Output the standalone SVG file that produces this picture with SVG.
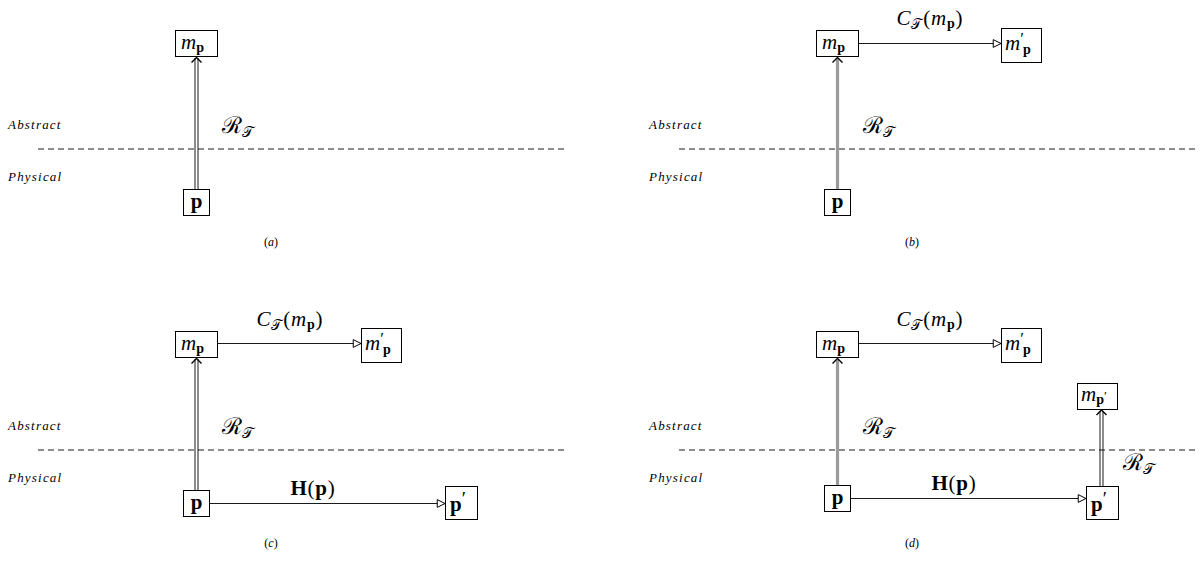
<svg xmlns="http://www.w3.org/2000/svg" width="1202" height="563" viewBox="0 0 1202 563">
<defs>
<style>
.box{fill:#fff;stroke:#000;stroke-width:1}
.dash{stroke:#000;stroke-width:0.9;stroke-dasharray:6 4;fill:none}
.lbl{font-family:"Liberation Serif","DejaVu Serif",serif;font-style:italic;font-size:13px;letter-spacing:1.2px;fill:#000}
.cap{font-family:"Liberation Serif","DejaVu Serif",serif;font-size:12px;fill:#000;text-anchor:middle}
.m{font-family:"Liberation Serif","DejaVu Serif",serif;font-size:21px;fill:#000}
.e{letter-spacing:0.8px}
.r{font-size:23px}
.it{font-style:italic}
.bf{font-weight:bold}
.thin{stroke:#000;stroke-width:0.9;fill:none}
.grey{stroke:#9a9a9a;stroke-width:3.2;fill:none}
.hor{stroke:#000;stroke-width:0.9;fill:none;marker-end:url(#tri)}
</style>
<marker id="tri" markerUnits="userSpaceOnUse" markerWidth="10" markerHeight="10" viewBox="-8 -4 9 8" refX="0" refY="0" orient="auto">
<path d="M-7,-3.5 L0,0 L-7,3.5 Z" fill="#fff" stroke="#000" stroke-width="0.9"/>
</marker>
<path id="chev" d="M-5,5 L0,0 L5,5" fill="none" stroke="#000" stroke-width="1.4"/>
</defs>

<!-- Panel a -->
<g id="panel-a">
<text class="lbl" x="8" y="129">Abstract</text>
<text class="lbl" x="8" y="181">Physical</text>
<line class="dash" x1="38" y1="149" x2="568" y2="149"/>
<text class="cap" x="271" y="246">(<tspan font-style="italic">a</tspan>)</text>
</g>
<g id="a-connectors">
<line class="thin" x1="195" y1="189" x2="195" y2="58"/>
<line class="thin" x1="198" y1="189" x2="198" y2="58"/>
<use href="#chev" x="196.5" y="57.5"/>
<text class="m r" x="222" y="133">ℛ<tspan font-size="15" dy="4">𝒯</tspan></text>
</g>
<g id="a-mp"><rect class="box" x="175.5" y="30.5" width="42" height="26"/>
<text class="m" x="181" y="49"><tspan class="it">m</tspan><tspan class="bf" font-size="14" dy="3">p</tspan></text></g>
<g id="a-p"><rect class="box" x="183.5" y="189.5" width="26" height="26"/>
<text class="m bf" x="196.5" y="208" text-anchor="middle">p</text></g>

<!-- Panel b -->
<g id="panel-b">
<text class="lbl" x="649" y="129">Abstract</text>
<text class="lbl" x="649" y="181">Physical</text>
<line class="dash" x1="679" y1="149" x2="1198" y2="149"/>
<text class="cap" x="912" y="246">(<tspan font-style="italic">b</tspan>)</text>
</g>
<g id="b-connectors">
<line class="grey" x1="837.5" y1="189" x2="837.5" y2="59"/>
<use href="#chev" x="837.5" y="57.5"/>
<line class="hor" x1="858" y1="43.5" x2="1001" y2="43.5"/>
<text class="m r" x="863" y="133">ℛ<tspan font-size="15" dy="4">𝒯</tspan></text>
<text class="m e" x="930" y="25" text-anchor="middle"><tspan class="it">C</tspan><tspan font-size="14" dy="4">𝒯</tspan><tspan dy="-4">(</tspan><tspan class="it">m</tspan><tspan class="bf" font-size="14" dy="3">p</tspan><tspan dy="-3">)</tspan></text>
</g>
<g id="b-mp"><rect class="box" x="816.5" y="30.5" width="42" height="26"/>
<text class="m" x="822" y="49"><tspan class="it">m</tspan><tspan class="bf" font-size="14" dy="3">p</tspan></text></g>
<g id="b-mpp"><rect class="box" x="1001.5" y="28.5" width="40" height="34"/>
<text class="m" x="1005" y="50"><tspan class="it">m</tspan><tspan font-size="17" dy="-6">′</tspan><tspan class="bf" font-size="14" dx="-1" dy="10">p</tspan></text></g>
<g id="b-p"><rect class="box" x="824.5" y="189.5" width="26" height="26"/>
<text class="m bf" x="837.5" y="208" text-anchor="middle">p</text></g>

<!-- Panel c -->
<g id="panel-c">
<text class="lbl" x="8" y="430">Abstract</text>
<text class="lbl" x="8" y="482">Physical</text>
<line class="dash" x1="38" y1="450" x2="568" y2="450"/>
<text class="cap" x="271" y="547">(<tspan font-style="italic">c</tspan>)</text>
</g>
<g id="c-connectors">
<line class="thin" x1="195" y1="490" x2="195" y2="359"/>
<line class="thin" x1="198" y1="490" x2="198" y2="359"/>
<use href="#chev" x="196.5" y="358.5"/>
<line class="hor" x1="218" y1="343.5" x2="361" y2="343.5"/>
<line class="hor" x1="210" y1="503.5" x2="445" y2="503.5"/>
<text class="m r" x="222" y="434">ℛ<tspan font-size="15" dy="4">𝒯</tspan></text>
<text class="m e" x="290" y="326" text-anchor="middle"><tspan class="it">C</tspan><tspan font-size="14" dy="4">𝒯</tspan><tspan dy="-4">(</tspan><tspan class="it">m</tspan><tspan class="bf" font-size="14" dy="3">p</tspan><tspan dy="-3">)</tspan></text>
<text class="m e" x="313" y="495" text-anchor="middle"><tspan class="bf">H</tspan>(<tspan class="bf">p</tspan>)</text>
</g>
<g id="c-mp"><rect class="box" x="175.5" y="331.5" width="42" height="26"/>
<text class="m" x="181" y="350"><tspan class="it">m</tspan><tspan class="bf" font-size="14" dy="3">p</tspan></text></g>
<g id="c-mpp"><rect class="box" x="361.5" y="328.5" width="40" height="34"/>
<text class="m" x="365" y="350"><tspan class="it">m</tspan><tspan font-size="17" dy="-6">′</tspan><tspan class="bf" font-size="14" dx="-1" dy="10">p</tspan></text></g>
<g id="c-p"><rect class="box" x="183.5" y="490.5" width="26" height="26"/>
<text class="m bf" x="196.5" y="509" text-anchor="middle">p</text></g>
<g id="c-pp"><rect class="box" x="445.5" y="486.5" width="32" height="33"/>
<text class="m" x="450" y="511"><tspan class="bf">p</tspan><tspan font-size="19" dy="-6">′</tspan></text></g>

<!-- Panel d -->
<g id="panel-d">
<text class="lbl" x="649" y="430">Abstract</text>
<text class="lbl" x="649" y="482">Physical</text>
<line class="dash" x1="679" y1="450" x2="1198" y2="450"/>
<text class="cap" x="912" y="547">(<tspan font-style="italic">d</tspan>)</text>
</g>
<g id="d-connectors">
<line class="grey" x1="837.5" y1="485" x2="837.5" y2="360"/>
<use href="#chev" x="837.5" y="358.5"/>
<line class="hor" x1="858" y1="343.5" x2="1001" y2="343.5"/>
<line class="hor" x1="851" y1="498.5" x2="1086" y2="498.5"/>
<line class="thin" x1="1100" y1="486" x2="1100" y2="411"/>
<line class="thin" x1="1103" y1="486" x2="1103" y2="411"/>
<use href="#chev" x="1101.5" y="410"/>
<text class="m r" x="863" y="434">ℛ<tspan font-size="15" dy="4">𝒯</tspan></text>
<text class="m r" x="1123" y="470">ℛ<tspan font-size="15" dy="4">𝒯</tspan></text>
<text class="m e" x="930" y="326" text-anchor="middle"><tspan class="it">C</tspan><tspan font-size="14" dy="4">𝒯</tspan><tspan dy="-4">(</tspan><tspan class="it">m</tspan><tspan class="bf" font-size="14" dy="3">p</tspan><tspan dy="-3">)</tspan></text>
<text class="m e" x="954" y="490" text-anchor="middle"><tspan class="bf">H</tspan>(<tspan class="bf">p</tspan>)</text>
</g>
<g id="d-mp"><rect class="box" x="816.5" y="331.5" width="42" height="26"/>
<text class="m" x="822" y="350"><tspan class="it">m</tspan><tspan class="bf" font-size="14" dy="3">p</tspan></text></g>
<g id="d-mpp"><rect class="box" x="1001.5" y="328.5" width="40" height="34"/>
<text class="m" x="1005" y="350"><tspan class="it">m</tspan><tspan font-size="17" dy="-6">′</tspan><tspan class="bf" font-size="14" dx="-1" dy="10">p</tspan></text></g>
<g id="d-mpprime"><rect class="box" x="1077.5" y="383.5" width="40" height="26"/>
<text class="m" x="1081" y="401"><tspan class="it">m</tspan><tspan class="bf" font-size="14" dy="3">p</tspan><tspan font-size="13" dy="-4">′</tspan></text></g>
<g id="d-p"><rect class="box" x="824.5" y="485.5" width="26" height="26"/>
<text class="m bf" x="837.5" y="504" text-anchor="middle">p</text></g>
<g id="d-pp"><rect class="box" x="1086.5" y="486.5" width="32" height="33"/>
<text class="m" x="1091" y="511"><tspan class="bf">p</tspan><tspan font-size="19" dy="-6">′</tspan></text></g>
</svg>
